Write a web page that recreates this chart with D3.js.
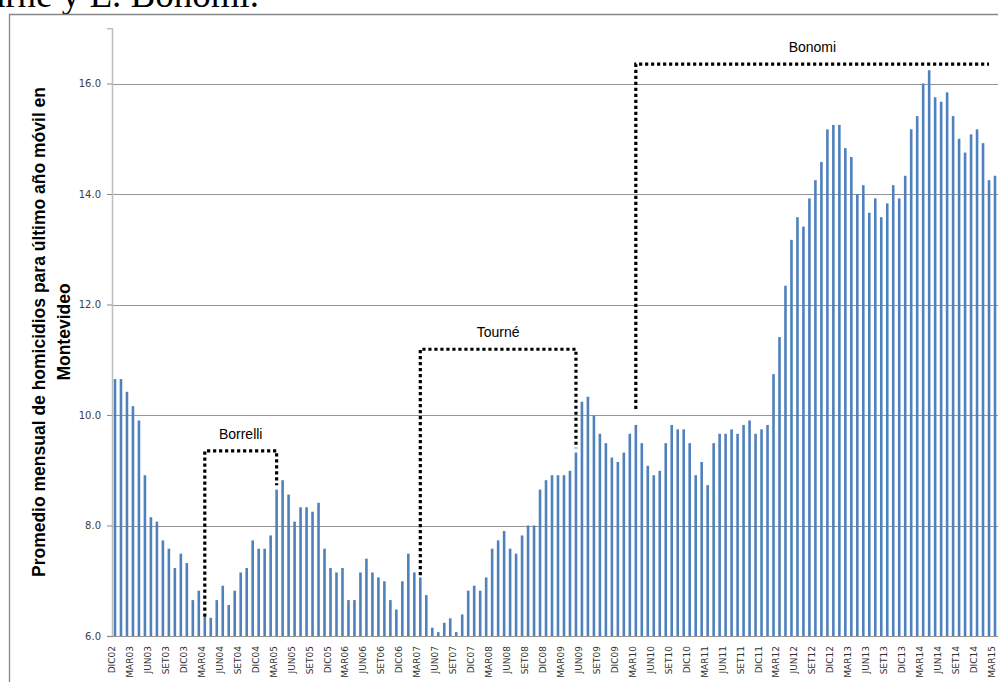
<!DOCTYPE html>
<html lang="es">
<head>
  <meta charset="UTF-8">
  <title>Promedio mensual de homicidios - Montevideo</title>
  <script src="https://d3js.org/d3.v7.min.js"></script>
  <style>
    body { margin: 0; background: #fff; }
    svg { display: block; }
    .tick text { font-family: 'DejaVu Sans', Verdana, sans-serif; font-size: 10px; fill: #404040; }
    .xlab { font-family: 'DejaVu Sans', Verdana, sans-serif; font-size: 9px; fill: #303030; }
    .ytitle { font-family: 'Liberation Sans', Arial, sans-serif; font-size: 17.5px; font-weight: bold; fill: #000; }
    .annot { font-family: 'Liberation Sans', Arial, sans-serif; font-size: 14px; fill: #000; }
  </style>
</head>
<body>
<svg width="998" height="682"></svg>
<script>
const width = 998, height = 682;

// months from DIC02 to MAR15
const monthNames = ["ENE", "FEB", "MAR", "ABR", "MAY", "JUN", "JUL", "AGO", "SET", "OCT", "NOV", "DIC"];
const firstMonth = { month: 11, year: 2002 };
const nMonths = 148;

const values = [
  10.65, 10.65, 10.42, 10.16, 9.90, 8.91, 8.15, 8.07, 7.73, 7.58, 7.23, 7.49,
  7.32, 6.65, 6.82, 6.35, 6.33, 6.65, 6.91, 6.56, 6.82, 7.15, 7.23, 7.73,
  7.58, 7.58, 7.82, 8.65, 8.82, 8.56, 8.07, 8.33, 8.33, 8.25, 8.41, 7.58,
  7.23, 7.15, 7.23, 6.65, 6.65, 7.15, 7.40, 7.15, 7.06, 6.99, 6.65, 6.48,
  6.99, 7.49, 7.15, 7.06, 6.74, 6.15, 6.07, 6.24, 6.32, 6.07, 6.39, 6.82,
  6.91, 6.82, 7.06, 7.58, 7.73, 7.90, 7.58, 7.49, 7.82, 8.00, 8.00, 8.65,
  8.82, 8.91, 8.91, 8.91, 8.99, 9.32, 10.24, 10.33, 9.99, 9.66, 9.49, 9.23,
  9.15, 9.32, 9.66, 9.82, 9.49, 9.08, 8.91, 8.99, 9.49, 9.82, 9.74, 9.74,
  9.49, 8.91, 9.15, 8.73, 9.49, 9.66, 9.66, 9.74, 9.66, 9.82, 9.90, 9.66,
  9.74, 9.82, 10.74, 11.41, 12.34, 13.17, 13.58, 13.41, 13.92, 14.25, 14.58, 15.17,
  15.25, 15.25, 14.83, 14.67, 14.00, 14.16, 13.66, 13.92, 13.58, 13.83, 14.16, 13.92,
  14.33, 15.17, 15.41, 16.00, 16.24, 15.75, 15.67, 15.84, 15.41, 15.00, 14.75, 15.08,
  15.17, 14.92, 14.25, 14.33
];

const yTicks = [6, 8, 10, 12, 14, 16];

// dotted brackets for each intendente
const periods = [
  { name: "Borrelli", start: "MAR04", end: "MAR05", top: 9.35, startBottom: 6.35, endBottom: 8.73 },
  { name: "Tourné", start: "MAR07", end: "MAY09", top: 11.19, startBottom: 7.10, endBottom: 9.40 },
  { name: "Bonomi", start: "MAR10", end: "FEB15", top: 16.35, startBottom: 10.11, endBottom: null }
];

const categories = d3.range(nMonths).map(i => {
  const m = (firstMonth.month + i) % 12;
  const yr = firstMonth.year + Math.floor((firstMonth.month + i) / 12);
  return monthNames[m] + String(yr % 100).padStart(2, "0");
});
const data = categories.map((c, i) => ({ cat: c, value: values[i] }));

const svg = d3.select("svg").attr("width", width).attr("height", height);

// document text above the chart (cut off at the top)
svg.append("text")
  .attr("x", 259).attr("y", 6.5)
  .attr("text-anchor", "end")
  .style("font-family", "'Liberation Serif', 'Times New Roman', serif")
  .style("font-size", "37px")
  .text("J. Tourné y E. Bonomi.");

// chart frame
svg.append("path")
  .attr("d", `M9.5,${height} V14.5 H${width}`)
  .attr("fill", "none")
  .attr("stroke", "#878787")
  .attr("stroke-width", 1.3);

const x = d3.scaleBand().domain(categories).range([112, 998]);
const y = d3.scaleLinear().domain([6, 17]).range([636, 28.25]);
const cx = c => x(c) + x.bandwidth() / 2;

// gridlines
svg.append("g")
  .selectAll("line")
  .data(yTicks.slice(1))
  .enter().append("line")
  .attr("x1", 112).attr("x2", width)
  .attr("y1", d => Math.round(y(d)) + 0.5).attr("y2", d => Math.round(y(d)) + 0.5)
  .attr("stroke", "#959595")
  .attr("stroke-width", 1);

// bars
const barW = 2.6;
svg.append("g")
  .selectAll("rect")
  .data(data)
  .enter().append("rect")
  .attr("x", d => cx(d.cat) - barW / 2)
  .attr("width", barW)
  .attr("y", d => y(d.value))
  .attr("height", d => y(6) - y(d.value))
  .attr("fill", "#4f81bd");

// y axis
const yAxis = svg.append("g")
  .attr("transform", "translate(112,0)")
  .call(d3.axisLeft(y).tickValues(yTicks).tickFormat(d3.format(".1f")).tickSize(5).tickPadding(6));
yAxis.select(".domain").attr("stroke", "#bdbdbd").attr("stroke-width", 1.5);
yAxis.selectAll(".tick line").attr("stroke", "#8a8a8a");

// x baseline
svg.append("line")
  .attr("x1", 112).attr("x2", width)
  .attr("y1", y(6) + 0.5).attr("y2", y(6) + 0.5)
  .attr("stroke", "#959595");

// x labels every 3 months
svg.append("g")
  .selectAll("text")
  .data(categories.filter((c, i) => i % 3 === 0))
  .enter().append("text")
  .attr("class", "xlab")
  .attr("text-anchor", "end")
  .attr("transform", d => `translate(${cx(d)},646) rotate(-90)`)
  .text(d => d);

// y axis title
const ty = 332;
svg.append("text")
  .attr("class", "ytitle")
  .attr("text-anchor", "middle")
  .attr("transform", `translate(44.5,${ty}) rotate(-90)`)
  .text("Promedio mensual de homicidios para último año móvil en");
svg.append("text")
  .attr("class", "ytitle")
  .attr("text-anchor", "middle")
  .attr("transform", `translate(69.5,${ty}) rotate(-90)`)
  .text("Montevideo");

// period brackets
const dotted = { stroke: "#000", "stroke-width": 3.2, "stroke-dasharray": "3.2,2.8", fill: "none" };
periods.forEach(p => {
  const x0 = cx(p.start), x1 = cx(p.end);
  let d = `M${x0},${y(p.startBottom)} V${y(p.top)} H${x1}`;
  if (p.endBottom !== null) d += ` V${y(p.endBottom)}`;
  const path = svg.append("path").attr("d", d);
  Object.entries(dotted).forEach(([k, v]) => path.attr(k, v));
  svg.append("text")
    .attr("class", "annot")
    .attr("text-anchor", "middle")
    .attr("x", (x0 + x1) / 2)
    .attr("y", y(p.top) - 12)
    .text(p.name);
});
</script>
</body>
</html>
